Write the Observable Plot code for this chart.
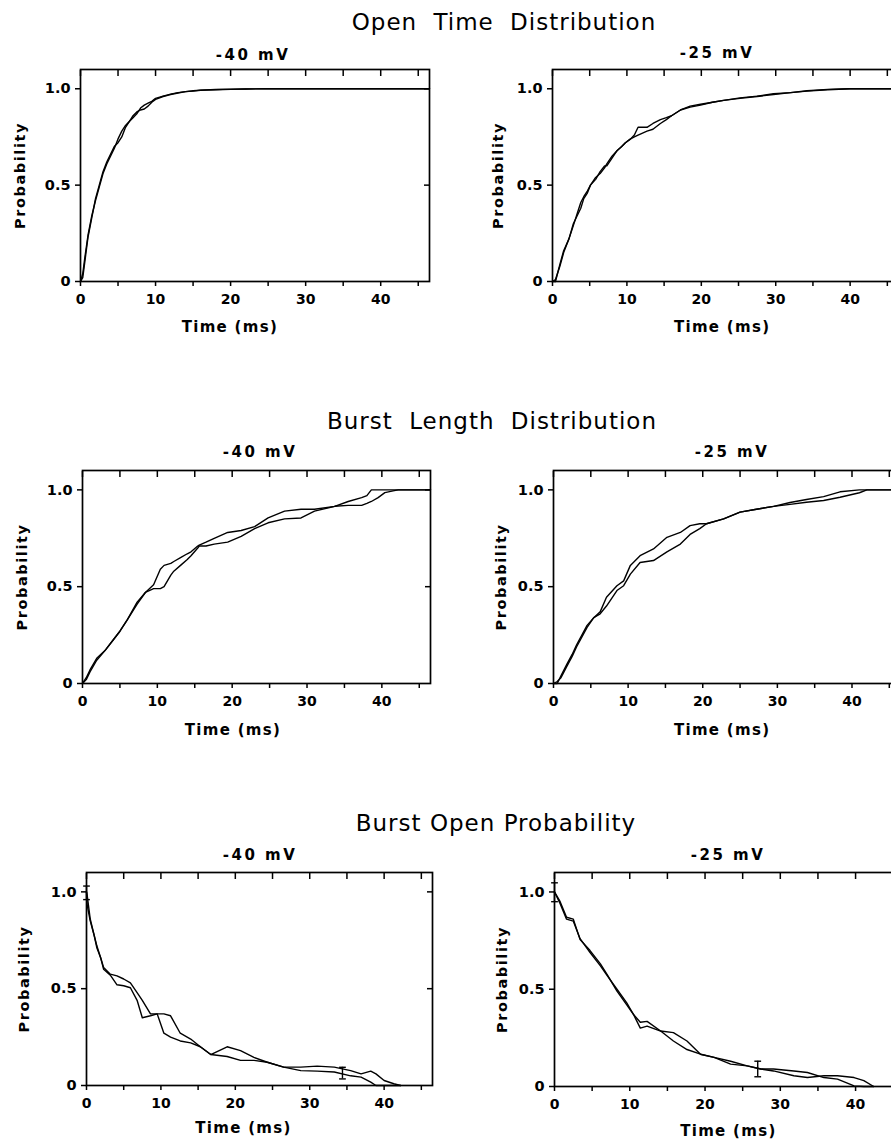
<!DOCTYPE html>
<html><head><meta charset="utf-8">
<script src="https://cdn.jsdelivr.net/npm/d3@7"></script>
<script src="https://cdn.jsdelivr.net/npm/@observablehq/plot@0.6"></script>
<style>
html,body{margin:0;padding:0;background:#fff;overflow:hidden;}
#root{position:relative;width:891px;height:1141px;overflow:hidden;background:#fff;}
#root > svg{position:absolute;}
</style></head><body><div id="root"></div>
<script>
// ---- Data ----
const titles = ["Open Time Distribution", "Burst Length Distribution", "Burst Open Probability"];
const subtitles = ["-40 mV", "-25 mV"];
const xTicks = [0, 5, 10, 15, 20, 25, 30, 35, 40, 45];
const xTickLabels = [0, 10, 20, 30, 40];
const yTicks = [0, 0.5, 1];
const yTickLabels = ["0", "0.5", "1.0"];
const yRightTicks = [0.5, 1];

// Open time, -40 mV
const t1 = [0, 0.3, 0.6, 1, 1.5, 2, 2.5, 3, 3.5, 4, 4.5, 5, 5.5, 6, 6.5, 7, 7.5, 8, 8.5, 9, 9.5, 10, 11, 12, 13, 14, 15, 16, 18, 20, 22, 25, 30, 35, 40, 46.5];
const a1 = [0, 0.04, 0.13, 0.24, 0.34, 0.42, 0.49, 0.56, 0.61, 0.65, 0.69, 0.74, 0.78, 0.81, 0.83, 0.85, 0.87, 0.90, 0.915, 0.925, 0.935, 0.95, 0.962, 0.972, 0.98, 0.985, 0.99, 0.993, 0.996, 0.998, 0.999, 1, 1, 1, 1, 1];
const b1 = [0, 0.02, 0.11, 0.23, 0.33, 0.43, 0.50, 0.57, 0.62, 0.66, 0.70, 0.72, 0.75, 0.80, 0.83, 0.86, 0.88, 0.89, 0.895, 0.91, 0.93, 0.945, 0.96, 0.97, 0.978, 0.985, 0.988, 0.992, 0.995, 0.997, 0.999, 1, 1, 1, 1, 1];

// Open time, -25 mV
const t2 = [0, 0.4, 1, 1.5, 2.2, 2.8, 3.3, 3.8, 4.2, 4.7, 5.1, 5.8, 6.4, 7, 7.3, 8, 8.7, 9.3, 9.8, 10.5, 11, 11.5, 12.7, 13.5, 14.5, 15.3, 16, 17.2, 18.5, 19.9, 21.5, 23, 25.2, 27.5, 29.7, 32, 34.2, 37, 40, 46.5];
const a2 = [0, 0, 0.09, 0.16, 0.22, 0.29, 0.35, 0.41, 0.44, 0.47, 0.50, 0.54, 0.56, 0.59, 0.61, 0.65, 0.68, 0.70, 0.72, 0.74, 0.76, 0.80, 0.80, 0.82, 0.84, 0.85, 0.86, 0.89, 0.91, 0.92, 0.93, 0.94, 0.953, 0.962, 0.974, 0.98, 0.99, 0.997, 1.0, 1.0];
const b2 = [0, 0.01, 0.08, 0.15, 0.22, 0.30, 0.34, 0.38, 0.43, 0.46, 0.50, 0.53, 0.57, 0.60, 0.60, 0.64, 0.68, 0.70, 0.72, 0.74, 0.75, 0.76, 0.78, 0.79, 0.82, 0.84, 0.86, 0.89, 0.905, 0.915, 0.93, 0.94, 0.95, 0.96, 0.97, 0.98, 0.988, 0.995, 1.0, 1.0];

// Burst length, -40 mV
const t3 = [0, 0.5, 1, 1.9, 3, 4.2, 5, 6, 7.3, 8.4, 9.5, 10.4, 10.9, 11.8, 12.2, 13.1, 14, 14.5, 15.4, 15.6, 16.5, 17.6, 19.4, 21.2, 23, 24.8, 27, 29.2, 31, 33.7, 35.5, 37.3, 38, 38.6, 39.5, 40.4, 41.5, 42.2, 46.5];
const a3 = [0, 0.03, 0.07, 0.13, 0.17, 0.23, 0.27, 0.33, 0.42, 0.47, 0.51, 0.59, 0.61, 0.62, 0.63, 0.65, 0.67, 0.68, 0.71, 0.715, 0.73, 0.75, 0.78, 0.79, 0.81, 0.855, 0.89, 0.90, 0.90, 0.915, 0.94, 0.96, 0.97, 1.0, 1.0, 1.0, 1.0, 1.0, 1.0];
const b3 = [0, 0.02, 0.06, 0.12, 0.17, 0.23, 0.27, 0.33, 0.41, 0.47, 0.49, 0.49, 0.50, 0.56, 0.58, 0.61, 0.64, 0.66, 0.70, 0.71, 0.71, 0.72, 0.73, 0.76, 0.80, 0.83, 0.85, 0.855, 0.89, 0.915, 0.92, 0.92, 0.93, 0.94, 0.96, 0.986, 0.995, 1.0, 1.0];

// Burst length, -25 mV
const t4 = [0, 0.5, 1, 1.8, 2.5, 3.1, 4.5, 5.4, 6.25, 7.1, 8.5, 9.4, 10.3, 11.6, 13.4, 15.2, 17, 18.3, 19.6, 20.5, 22.8, 25, 27.2, 29.5, 31.7, 33.9, 36.2, 38.4, 41, 42, 46.5];
const a4 = [0, 0, 0.04, 0.10, 0.15, 0.20, 0.30, 0.34, 0.37, 0.445, 0.505, 0.53, 0.61, 0.66, 0.695, 0.755, 0.78, 0.815, 0.825, 0.825, 0.85, 0.885, 0.90, 0.915, 0.935, 0.95, 0.965, 0.99, 1.0, 1.0, 1.0];
const b4 = [0, 0.01, 0.03, 0.09, 0.14, 0.19, 0.29, 0.34, 0.36, 0.40, 0.48, 0.505, 0.565, 0.625, 0.635, 0.68, 0.72, 0.77, 0.80, 0.825, 0.85, 0.885, 0.90, 0.915, 0.925, 0.936, 0.945, 0.962, 0.985, 1.0, 1.0];

// Burst open probability, -40 mV
const t5 = [0, 0.1, 0.5, 1, 1.4, 1.9, 2.3, 3.2, 4.1, 5, 5.9, 6.8, 7.5, 8.6, 9.5, 10.4, 11.3, 12.6, 14, 15.3, 16.7, 18.9, 20.7, 22.5, 24.3, 26.5, 28.8, 31, 33.3, 35.5, 36.9, 38.2, 38.9, 40, 41.3, 42.2];
const a5 = [1.0, 0.93, 0.85, 0.78, 0.71, 0.66, 0.61, 0.575, 0.566, 0.55, 0.53, 0.48, 0.44, 0.37, 0.37, 0.37, 0.36, 0.27, 0.24, 0.20, 0.16, 0.20, 0.18, 0.145, 0.12, 0.095, 0.095, 0.10, 0.095, 0.077, 0.06, 0.074, 0.06, 0.026, 0.009, 0];
const b5 = [1.0, 0.98, 0.86, 0.78, 0.72, 0.66, 0.60, 0.57, 0.52, 0.515, 0.505, 0.44, 0.35, 0.36, 0.37, 0.27, 0.25, 0.23, 0.22, 0.20, 0.16, 0.15, 0.13, 0.13, 0.12, 0.095, 0.077, 0.074, 0.07, 0.05, 0.043, 0.017, 0, 0, 0, 0];
const errT5 = [0, 34.4];
const errLo5 = [0.96, 0.034];
const errHi5 = [1.03, 0.094];

// Burst open probability, -25 mV
const t6 = [0, 0.75, 1.6, 2.5, 3.4, 4.7, 6.1, 7, 8.3, 9.6, 10.5, 11.4, 12.3, 14.1, 15.8, 17.6, 19.4, 21.2, 23.4, 25.6, 27.4, 29.1, 31.8, 33.6, 35.8, 37.6, 39.8, 41.1, 42.4];
const a6 = [1.0, 0.95, 0.87, 0.86, 0.755, 0.70, 0.63, 0.575, 0.49, 0.42, 0.37, 0.30, 0.31, 0.285, 0.277, 0.234, 0.166, 0.15, 0.13, 0.106, 0.09, 0.09, 0.08, 0.072, 0.046, 0.038, 0.003, 0, 0];
const b6 = [1.0, 0.94, 0.86, 0.85, 0.76, 0.69, 0.62, 0.57, 0.50, 0.43, 0.37, 0.33, 0.335, 0.285, 0.234, 0.19, 0.166, 0.15, 0.115, 0.106, 0.09, 0.08, 0.055, 0.046, 0.055, 0.055, 0.046, 0.03, 0];
const errT6 = [0, 27];
const errLo6 = [0.95, 0.05];
const errHi6 = [1.047, 0.13];

// ---- Layout ----
const panels = [
  {t: t1, a: a1, b: b1, sub: 0, col: 0, left: 80, right: 429, top: 69, bottom: 281, lab: 66, timeX: 19.9, timeDy: 46},
  {t: t2, a: a2, b: b2, sub: 1, col: 1, left: 552, right: 898, top: 69, bottom: 281, lab: 60, timeX: 22.8, timeDy: 46},
  {t: t3, a: a3, b: b3, sub: 0, col: 0, left: 82, right: 430, top: 470, bottom: 683, lab: 66, timeX: 20.1, timeDy: 47},
  {t: t4, a: a4, b: b4, sub: 1, col: 1, left: 553, right: 900, top: 470, bottom: 683, lab: 58, timeX: 22.6, timeDy: 47},
  {t: t5, a: a5, b: b5, sub: 0, col: 0, left: 86, right: 432, top: 872, bottom: 1085, lab: 68, timeX: 21.1, timeDy: 43, eT: errT5, eL: errLo5, eH: errHi5},
  {t: t6, a: a6, b: b6, sub: 1, col: 1, left: 554, right: 904, top: 872, bottom: 1086, lab: 58, timeX: 23.1, timeDy: 45, eT: errT6, eL: errLo6, eH: errHi6}
];

const root = document.getElementById("root");
const FONT = "DejaVu Sans";
const TICK = 6;

for (const p of panels) {
  const svgLeft = p.col === 0 ? 0 : 445;
  const width = p.col === 0 ? 445 : 470;
  const mt = 12, mb = 62;
  const marks = [
    Plot.frame({stroke: "black", strokeWidth: 1.7}),
    Plot.axisX({ticks: xTicks, tickSize: 5, tickPadding: 8, strokeWidth: 1.5,
      tickFormat: d => xTickLabels.includes(d) ? String(d) : "", label: null, fontSize: 14}),
    // inward ticks along the top edge
    Plot.axisX({anchor: "top", ticks: xTicks, tickSize: TICK, dy: TICK, strokeWidth: 1.5,
      tickFormat: () => "", label: null}),
    Plot.axisY({ticks: yTicks, tickSize: 5, tickPadding: 5, strokeWidth: 1.5,
      tickFormat: d => yTickLabels[yTicks.indexOf(d)], fontSize: 14.5,
      label: "Probability", labelAnchor: "center", labelOffset: p.lab, labelArrow: "none"}),
    // inward ticks along the right edge
    Plot.axisY({anchor: "right", ticks: yRightTicks, tickSize: TICK, dx: -TICK, strokeWidth: 1.5,
      tickFormat: () => "", label: null}),
    Plot.line(p.t, {x: p.t, y: p.a, stroke: "black", strokeWidth: 1.4}),
    Plot.line(p.t, {x: p.t, y: p.b, stroke: "black", strokeWidth: 1.4}),
    Plot.text(["Time (ms)"], {x: p.timeX, frameAnchor: "bottom", dy: p.timeDy, lineAnchor: "middle",
      fontSize: 15, fontWeight: "bold", fill: "black"})
  ];
  if (p.eT) {
    marks.push(Plot.ruleX(p.eT, {x: p.eT, y1: p.eL, y2: p.eH, stroke: "black", strokeWidth: 1.4}));
    marks.push(Plot.link(p.eT, {x1: p.eT.map(d => d - 0.45), x2: p.eT.map(d => d + 0.45), y1: p.eL, y2: p.eL, stroke: "black", strokeWidth: 1.4}));
    marks.push(Plot.link(p.eT, {x1: p.eT.map(d => d - 0.45), x2: p.eT.map(d => d + 0.45), y1: p.eH, y2: p.eH, stroke: "black", strokeWidth: 1.4}));
  }
  const chart = Plot.plot({
    width,
    height: mt + (p.bottom - p.top) + mb,
    marginLeft: p.left - svgLeft,
    marginRight: svgLeft + width - p.right,
    marginTop: mt,
    marginBottom: mb,
    style: {fontFamily: FONT, fontSize: "14px", fontWeight: "bold", background: "transparent", color: "black", overflow: "visible", maxWidth: "none"},
    x: {domain: [0, 46.5]},
    y: {domain: [0, 1.1]},
    marks
  });
  chart.style.position = "absolute";
  chart.style.left = svgLeft + "px";
  chart.style.top = (p.top - mt) + "px";
  chart.querySelectorAll("text").forEach(el => {
    const txt = el.textContent;
    if (txt === "Time (ms)") el.setAttribute("letter-spacing", "1.3");
    if (txt === "Probability") el.setAttribute("letter-spacing", "1.6");
  });
  root.appendChild(chart);
}

// ---- Titles and subtitles ----
const overlay = d3.create("svg")
  .attr("width", 891).attr("height", 1141)
  .style("left", "0px").style("top", "0px").style("pointer-events", "none")
  .attr("font-family", FONT);
const titlePos = [
  {cx: 504, y: 30, ws: 8},
  {cx: 492, y: 429, ws: 8},
  {cx: 496, y: 831, ws: 0}
];
titles.forEach((t, i) => {
  overlay.append("text").attr("x", titlePos[i].cx).attr("y", titlePos[i].y)
    .attr("text-anchor", "middle").attr("font-size", 23).attr("letter-spacing", 1)
    .attr("word-spacing", titlePos[i].ws).attr("fill", "black").text(t);
});
const subPos = [
  {cx: 253, y: 60}, {cx: 717, y: 58},
  {cx: 260, y: 457}, {cx: 732, y: 457},
  {cx: 260, y: 860}, {cx: 728, y: 860}
];
panels.forEach((p, i) => {
  overlay.append("text").attr("x", subPos[i].cx).attr("y", subPos[i].y)
    .attr("text-anchor", "middle").attr("font-size", 15).attr("font-weight", "bold")
    .attr("letter-spacing", 2.5).attr("fill", "black").text(subtitles[p.sub]);
});
root.appendChild(overlay.node());
</script>
</body></html>
